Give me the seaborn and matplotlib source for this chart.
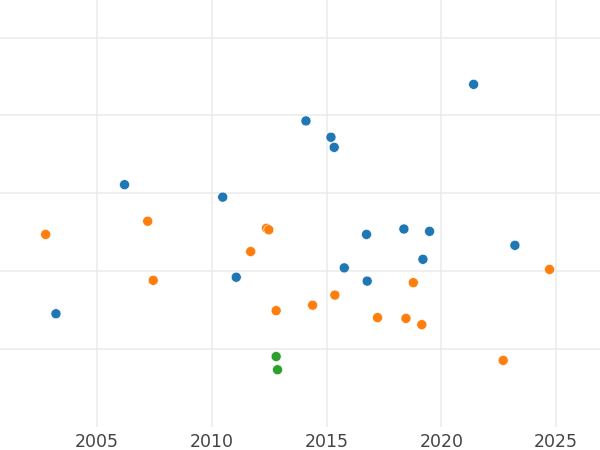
import numpy as np
import pandas as pd
import matplotlib
matplotlib.use("Agg")
import matplotlib.pyplot as plt
import seaborn as sns

# values (y axis has no labels, units are grid steps)
blue_year = [2021.41, 2014.10, 2015.19, 2015.33, 2006.19, 2010.47, 2016.74, 2018.37,
             2019.49, 2023.21, 2019.20, 2015.77, 2016.77, 2011.06, 2003.20]
blue_val = [4.40, 3.93, 3.72, 3.59, 3.11, 2.95, 2.47, 2.54,
            2.51, 2.33, 2.15, 2.04, 1.87, 1.92, 1.45]

orange_year = [2002.75, 2007.20, 2007.44, 2011.69, 2012.38, 2012.48, 2012.80, 2014.39,
               2015.36, 2017.22, 2018.46, 2019.15, 2018.78, 2022.70, 2024.72]
orange_val = [2.47, 2.64, 1.88, 2.25, 2.55, 2.53, 1.49, 1.56,
              1.69, 1.40, 1.39, 1.31, 1.85, 0.85, 2.02]

green_year = [2012.80, 2012.86]
green_val = [0.90, 0.73]

groups = ["A", "B", "C"]
colors = ["#1f77b4", "#ff7f0e", "#2ca02c"]

df = pd.DataFrame({
    "year": blue_year + orange_year + green_year,
    "value": blue_val + orange_val + green_val,
    "group": [groups[0]] * len(blue_year) + [groups[1]] * len(orange_year) + [groups[2]] * len(green_year),
})

sns.set_style("white")
fig = plt.figure(figsize=(6, 4.5), dpi=100)
ax = fig.add_axes([0, 0.0522, 1, 0.9478])

sns.scatterplot(data=df, x="year", y="value", hue="group", hue_order=groups,
                palette=colors, s=52, edgecolor="white", linewidth=0.4,
                legend=False, ax=ax, zorder=3)

ax.set_xlim(2000.76, 2026.92)
ax.set_ylim(0, 5.485)
ax.set_xticks([2005, 2010, 2015, 2020, 2025])
ax.set_yticks([1, 2, 3, 4, 5])
ax.set_yticklabels([])
ax.grid(True, color="#ebebeb", linewidth=1.1)
ax.set_axisbelow(True)
ax.tick_params(axis="both", length=0, labelsize=12.5, labelcolor="#444444", pad=5)
ax.set_xlabel("")
ax.set_ylabel("")
for s in ax.spines.values():
    s.set_visible(False)

fig.savefig("out.png", dpi=100)
